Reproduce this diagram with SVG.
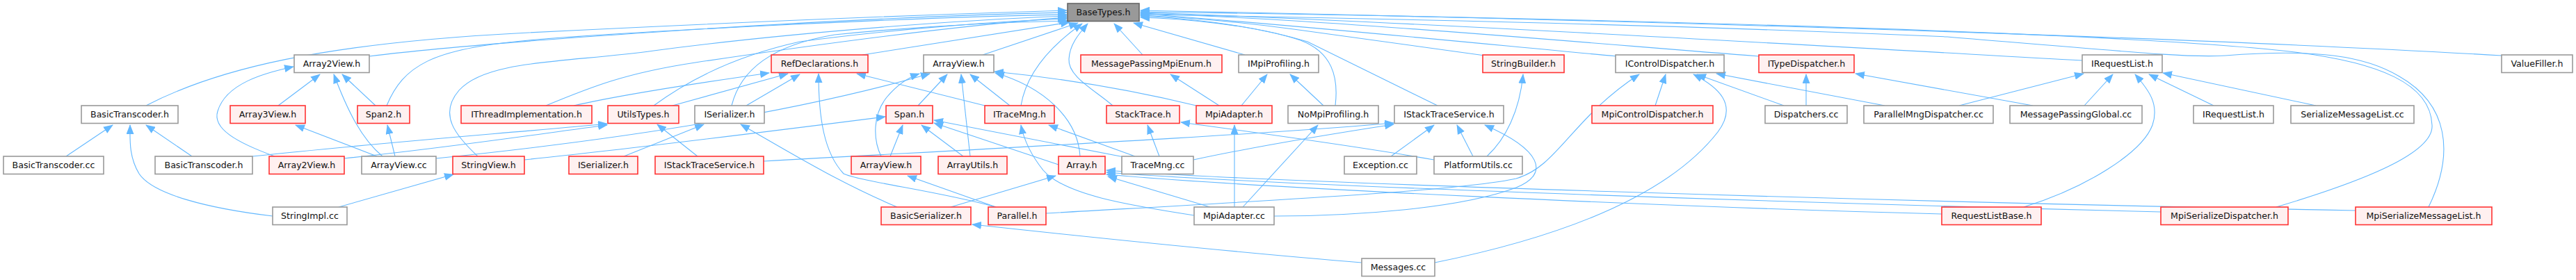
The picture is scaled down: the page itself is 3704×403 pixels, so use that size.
<svg xmlns="http://www.w3.org/2000/svg" width="3704" height="403" viewBox="0 0 3704 403">
<style>
.n rect{fill:#fff;stroke:#999;stroke-width:1.6}
.r rect{fill:#fff0f0;stroke:#f33;stroke-width:1.6}
.root rect{fill:#999;stroke:#666;stroke-width:1.6}
text{font-family:"DejaVu Sans","Liberation Sans",sans-serif;font-size:12.6px;fill:#111;text-anchor:middle}
#edges path{fill:none;stroke:#63b8ff;stroke-width:1.1;marker-end:url(#ah)}
</style>
<defs>
<marker id="ah" markerWidth="14" markerHeight="11" refX="13" refY="5.5" orient="auto" markerUnits="userSpaceOnUse"><path d="M0,0 L14,5.5 L0,11 z" fill="#63b8ff"/></marker>
</defs>
<rect width="3704" height="403" fill="#fff"/>
<g id="edges">
<!-- to BaseTypes.h -->
<path d="M210,152 C310,100 460,62 760,47 S1300,22 1534,15"/>
<path d="M531,81 C700,60 1200,25 1534,18"/>
<path d="M556,152 C580,95 620,70 760,58 S1300,25 1534,21"/>
<path d="M687,225 C655,195 630,165 660,130 C700,85 820,90 940,73 C1150,45 1400,28 1534,23"/>
<path d="M785,152 C850,125 900,105 1000,90 C1200,60 1400,35 1534,25"/>
<path d="M940,152 C990,115 1060,80 1150,60 C1300,40 1450,30 1534,27"/>
<path d="M1052,152 C1065,100 1110,65 1200,50 C1350,35 1480,31 1536,30"/>
<path d="M1240,79 L1538,32"/>
<path d="M1413,79 L1550,33"/>
<path d="M1468,152 C1475,110 1505,70 1556,34"/>
<path d="M1600,152 C1575,130 1535,110 1537,85 C1538,65 1550,50 1564,34"/>
<path d="M1643,79 L1602,34"/>
<path d="M1790,79 L1630,33"/>
<path d="M1920,152 C1925,110 1915,75 1870,58 C1800,35 1700,27 1640,25"/>
<path d="M2067,152 L1880,60 Q1780,30 1640,23"/>
<path d="M2135,80 L1860,42 Q1760,28 1640,22"/>
<path d="M2325,81 C2100,60 1800,30 1640,20"/>
<path d="M2529,81 C2200,55 1900,28 1640,19"/>
<path d="M2994,87 C2600,65 2000,30 1640,18"/>
<path d="M3597,80 C3000,45 2000,22 1640,15"/>
<path d="M3273,298 C3400,260 3500,220 3497,180 C3495,120 3420,90 3300,75 C3000,40 2000,22 1640,17"/>
<path d="M3492,298 C3530,220 3520,150 3450,110 C3400,80 3330,70 3200,80 C3150,83 3100,78 2800,53 C2400,35 1900,25 1640,21"/>
<!-- left part -->
<path d="M95,225 L162,180"/>
<path d="M276,225 L210,180"/>
<path d="M392,311 C300,300 220,280 200,250 C185,225 187,200 187,180"/>
<path d="M395,225 C340,205 305,185 313,160 C325,120 380,105 422,96"/>
<path d="M400,152 L460,107"/>
<path d="M550,225 C520,200 500,160 480,107"/>
<path d="M540,152 L492,107"/>
<path d="M542,225 L425,180"/>
<path d="M568,225 L557,180"/>
<path d="M487,298 L652,251"/>
<path d="M363,225 C550,205 750,190 873,178"/>
<path d="M495,228 C650,212 780,192 873,180"/>
<path d="M627,228 C900,200 1150,160 1337,106"/>
<path d="M754,230 C900,215 1100,190 1273,168"/>
<path d="M825,152 C900,135 1000,120 1106,105"/>
<path d="M967,152 L1133,106"/>
<path d="M1073,152 L1150,107"/>
<path d="M1420,153 L1232,106"/>
<path d="M1432,298 C1350,275 1240,262 1213,250 C1185,220 1177,170 1177,106"/>
<path d="M1432,298 L1305,253"/>
<path d="M1290,298 C1200,260 1120,210 1065,179"/>
<path d="M1367,298 L1518,253"/>
<path d="M897,225 L1012,179"/>
<path d="M1003,225 L945,179"/>
<path d="M1098,232 C1400,215 1800,195 2004,177"/>
<path d="M1452,152 L1395,107"/>
<path d="M1320,152 L1362,107"/>
<path d="M1395,225 L1382,107"/>
<path d="M1267,225 C1255,200 1255,165 1275,140 C1290,122 1305,112 1322,106"/>
<path d="M1280,225 L1298,180"/>
<path d="M1385,225 L1325,180"/>
<path d="M1522,237 L1343,177"/>
<path d="M1553,225 C1550,170 1500,125 1431,105"/>
<path d="M1616,226 L1343,173"/>
<path d="M1632,225 L1508,180"/>
<path d="M1667,225 L1650,180"/>
<path d="M1716,230 C1800,212 1900,195 2004,179"/>
<path d="M2062,230 C1950,210 1800,190 1698,176"/>
<path d="M1753,152 L1683,107"/>
<path d="M1785,152 L1822,107"/>
<path d="M1720,152 C1650,135 1550,115 1430,103"/>
<path d="M1903,152 L1855,107"/>
<path d="M1775,298 L1775,180"/>
<path d="M1787,298 L1895,180"/>
<path d="M1740,298 L1593,254"/>
<path d="M1717,310 C1620,295 1530,280 1500,245 C1480,220 1472,200 1468,180"/>
<path d="M1832,311 C1950,311 2100,300 2180,270 C2230,250 2215,215 2135,180"/>
<path d="M2000,225 L2062,180"/>
<path d="M2118,225 L2095,180"/>
<path d="M2138,225 C2165,200 2185,160 2190,107"/>
<path d="M1504,307 C1800,290 2100,275 2180,257 C2240,240 2260,170 2357,107"/>
<path d="M2063,378 C2250,340 2400,280 2470,190 C2500,150 2470,125 2435,107"/>
<path d="M1958,378 C1800,365 1600,345 1398,323"/>
<path d="M2380,152 L2395,107"/>
<path d="M2565,152 L2440,107"/>
<path d="M2597,152 L2597,107"/>
<path d="M2710,152 L2468,106"/>
<path d="M2817,152 L2996,106"/>
<path d="M2923,152 L2668,106"/>
<path d="M2997,152 L3038,107"/>
<path d="M3183,152 L3090,107"/>
<path d="M3330,152 L3110,105"/>
<path d="M2910,298 C3000,270 3080,220 3095,180 C3105,150 3090,130 3070,107"/>
<path d="M2792,308 C2400,298 1800,270 1591,251"/>
<path d="M3107,305 C2500,290 1800,265 1591,248"/>
<path d="M3387,303 C2700,290 1800,262 1591,245"/>
</g>
<g id="n0" class="root"><rect x="1535" y="5" width="103" height="25.5"/><text x="1586.5" y="22">BaseTypes.h</text></g>
<g id="n1" class="n"><rect x="423" y="79" width="108" height="25.5"/><text x="477" y="96">Array2View.h</text></g>
<g id="n2" class="r"><rect x="1109" y="79" width="139" height="25.5"/><text x="1178.5" y="96">RefDeclarations.h</text></g>
<g id="n3" class="n"><rect x="1328" y="79" width="101" height="25.5"/><text x="1378.5" y="96">ArrayView.h</text></g>
<g id="n4" class="r"><rect x="1554" y="79" width="203" height="25.5"/><text x="1655.5" y="96">MessagePassingMpiEnum.h</text></g>
<g id="n5" class="n"><rect x="1781" y="79" width="115" height="25.5"/><text x="1838.5" y="96">IMpiProfiling.h</text></g>
<g id="n6" class="r"><rect x="2132" y="79" width="117" height="25.5"/><text x="2190.5" y="96">StringBuilder.h</text></g>
<g id="n7" class="n"><rect x="2323" y="79" width="156" height="25.5"/><text x="2401" y="96">IControlDispatcher.h</text></g>
<g id="n8" class="r"><rect x="2529" y="79" width="137" height="25.5"/><text x="2597.5" y="96">ITypeDispatcher.h</text></g>
<g id="n9" class="n"><rect x="2994" y="79" width="115" height="25.5"/><text x="3051.5" y="96">IRequestList.h</text></g>
<g id="n10" class="n"><rect x="3597" y="79" width="102" height="25.5"/><text x="3648" y="96">ValueFiller.h</text></g>
<g id="n11" class="n"><rect x="117" y="152" width="139" height="25.5"/><text x="186.5" y="169">BasicTranscoder.h</text></g>
<g id="n12" class="r"><rect x="331" y="152" width="108" height="25.5"/><text x="385" y="169">Array3View.h</text></g>
<g id="n13" class="r"><rect x="514" y="152" width="75" height="25.5"/><text x="551.5" y="169">Span2.h</text></g>
<g id="n14" class="r"><rect x="663" y="152" width="188" height="25.5"/><text x="757" y="169">IThreadImplementation.h</text></g>
<g id="n15" class="r"><rect x="874" y="152" width="102" height="25.5"/><text x="925" y="169">UtilsTypes.h</text></g>
<g id="n16" class="n"><rect x="999" y="152" width="100" height="25.5"/><text x="1049" y="169">ISerializer.h</text></g>
<g id="n17" class="r"><rect x="1274" y="152" width="67" height="25.5"/><text x="1307.5" y="169">Span.h</text></g>
<g id="n18" class="r"><rect x="1416" y="152" width="100" height="25.5"/><text x="1466" y="169">ITraceMng.h</text></g>
<g id="n19" class="r"><rect x="1591" y="152" width="105" height="25.5"/><text x="1643.5" y="169">StackTrace.h</text></g>
<g id="n20" class="r"><rect x="1720" y="152" width="109" height="25.5"/><text x="1774.5" y="169">MpiAdapter.h</text></g>
<g id="n21" class="n"><rect x="1852" y="152" width="130" height="25.5"/><text x="1917" y="169">NoMpiProfiling.h</text></g>
<g id="n22" class="n"><rect x="2005" y="152" width="157" height="25.5"/><text x="2083.5" y="169">IStackTraceService.h</text></g>
<g id="n23" class="r"><rect x="2289" y="152" width="174" height="25.5"/><text x="2376" y="169">MpiControlDispatcher.h</text></g>
<g id="n24" class="n"><rect x="2538" y="152" width="118" height="25.5"/><text x="2597" y="169">Dispatchers.cc</text></g>
<g id="n25" class="n"><rect x="2680" y="152" width="186" height="25.5"/><text x="2773" y="169">ParallelMngDispatcher.cc</text></g>
<g id="n26" class="n"><rect x="2890" y="152" width="190" height="25.5"/><text x="2985" y="169">MessagePassingGlobal.cc</text></g>
<g id="n27" class="n"><rect x="3154" y="152" width="115" height="25.5"/><text x="3211.5" y="169">IRequestList.h</text></g>
<g id="n28" class="n"><rect x="3294" y="152" width="177" height="25.5"/><text x="3382.5" y="169">SerializeMessageList.cc</text></g>
<g id="n29" class="n"><rect x="5" y="225" width="144" height="25.5"/><text x="77" y="242">BasicTranscoder.cc</text></g>
<g id="n30" class="n"><rect x="223" y="225" width="140" height="25.5"/><text x="293" y="242">BasicTranscoder.h</text></g>
<g id="n31" class="r"><rect x="387" y="225" width="108" height="25.5"/><text x="441" y="242">Array2View.h</text></g>
<g id="n32" class="n"><rect x="520" y="225" width="107" height="25.5"/><text x="573.5" y="242">ArrayView.cc</text></g>
<g id="n33" class="r"><rect x="651" y="225" width="103" height="25.5"/><text x="702.5" y="242">StringView.h</text></g>
<g id="n34" class="r"><rect x="818" y="225" width="99" height="25.5"/><text x="867.5" y="242">ISerializer.h</text></g>
<g id="n35" class="r"><rect x="942" y="225" width="156" height="25.5"/><text x="1020" y="242">IStackTraceService.h</text></g>
<g id="n36" class="r"><rect x="1224" y="225" width="100" height="25.5"/><text x="1274" y="242">ArrayView.h</text></g>
<g id="n37" class="r"><rect x="1349" y="225" width="99" height="25.5"/><text x="1398.5" y="242">ArrayUtils.h</text></g>
<g id="n38" class="r"><rect x="1522" y="225" width="67" height="25.5"/><text x="1555.5" y="242">Array.h</text></g>
<g id="n39" class="n"><rect x="1613" y="225" width="103" height="25.5"/><text x="1664.5" y="242">TraceMng.cc</text></g>
<g id="n40" class="n"><rect x="1933" y="225" width="104" height="25.5"/><text x="1985" y="242">Exception.cc</text></g>
<g id="n41" class="n"><rect x="2062" y="225" width="127" height="25.5"/><text x="2125.5" y="242">PlatformUtils.cc</text></g>
<g id="n42" class="n"><rect x="392" y="298" width="107" height="25.5"/><text x="445.5" y="315">StringImpl.cc</text></g>
<g id="n43" class="r"><rect x="1267" y="298" width="129" height="25.5"/><text x="1331.5" y="315">BasicSerializer.h</text></g>
<g id="n44" class="r"><rect x="1421" y="298" width="83" height="25.5"/><text x="1462.5" y="315">Parallel.h</text></g>
<g id="n45" class="n"><rect x="1717" y="298" width="115" height="25.5"/><text x="1774.5" y="315">MpiAdapter.cc</text></g>
<g id="n46" class="r"><rect x="2792" y="298" width="143" height="25.5"/><text x="2863.5" y="315">RequestListBase.h</text></g>
<g id="n47" class="r"><rect x="3107" y="298" width="183" height="25.5"/><text x="3198.5" y="315">MpiSerializeDispatcher.h</text></g>
<g id="n48" class="r"><rect x="3387" y="298" width="196" height="25.5"/><text x="3485" y="315">MpiSerializeMessageList.h</text></g>
<g id="n49" class="n"><rect x="1958" y="372" width="105" height="25.5"/><text x="2010.5" y="389">Messages.cc</text></g>
</svg>
